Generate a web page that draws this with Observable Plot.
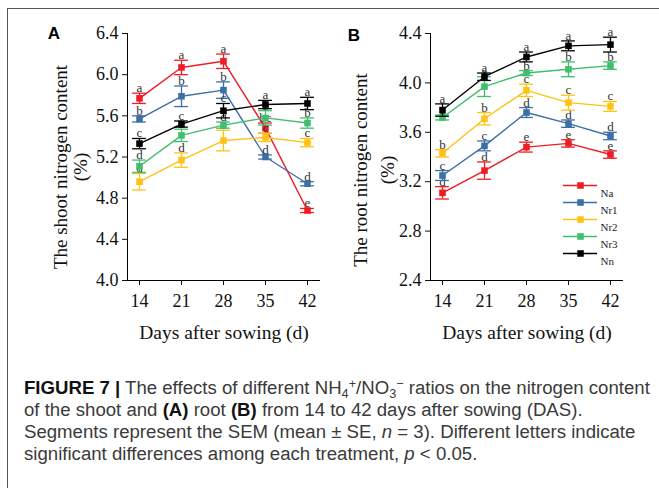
<!DOCTYPE html>
<html>
<head>
<meta charset="utf-8">
<script src="https://cdn.jsdelivr.net/npm/d3@7"></script>
<script src="https://cdn.jsdelivr.net/npm/@observablehq/plot@0.6"></script>
<style>
  html, body { margin: 0; padding: 0; background: #fff; }
  #wrap { position: relative; width: 659px; height: 488px; overflow: hidden; background: #fff; }
  #frame { position: absolute; left: 7px; top: 8px; right: -5px; bottom: -5px; border-left: 1.5px solid #555; border-top: 1.5px solid #555; }
  .panel { position: absolute; top: 0; }
  #caption { position: absolute; left: 24px; top: 377px; font-family: "Liberation Sans", Arial, sans-serif; color: #3a3a3a; white-space: nowrap; }
  #caption .ln { line-height: 22px; height: 22px; }
  #caption b { color: #111; }
  .sb { font-size: 0.68em; position: relative; top: 0.3em; }
  .sp { font-size: 0.68em; position: relative; top: -0.45em; }
</style>
</head>
<body>
<div id="wrap">
  <div id="frame"></div>
  <div id="panelA" class="panel" style="left:0px"></div>
  <div id="panelB" class="panel" style="left:330px"></div>
  <div id="legend" class="panel" style="left:555px; top:165px"></div>
  <div id="caption">
    <div class="ln" id="cap1"><b>FIGURE 7 |</b> The effects of different NH<span class="sb">4</span><span class="sp">+</span>/NO<span class="sb">3</span><span class="sp">−</span> ratios on the nitrogen content</div>
    <div class="ln">of the shoot and <b>(A)</b> root <b>(B)</b> from 14 to 42 days after sowing (DAS).</div>
    <div class="ln">Segments represent the SEM (mean ± SE, <i>n</i> = 3). Different letters indicate</div>
    <div class="ln">significant differences among each treatment, <i>p</i> &lt; 0.05.</div>
  </div>
</div>
<script>
// ---- data ----
const days = [14, 21, 28, 35, 42];
const series = ["Na", "Nr1", "Nr2", "Nr3", "Nn"];
const colors = ["#ee1c24", "#3b6fa6", "#ffc214", "#3fbf6d", "#000000"];

// Shoot nitrogen content (%)  (A)
const shootNa  = [5.77, 6.07, 6.13, 5.48, 4.68];
const shootNr1 = [5.57, 5.79, 5.85, 5.20, 4.94];
const shootNr2 = [4.96, 5.17, 5.36, 5.39, 5.34];
const shootNr3 = [5.11, 5.41, 5.51, 5.58, 5.53];
const shootNn  = [5.33, 5.52, 5.65, 5.71, 5.72];
const shootNaSE  = [0.05, 0.07, 0.07, 0.05, 0.02];
const shootNr1SE = [0.03, 0.10, 0.08, 0.02, 0.02];
const shootNr2SE = [0.08, 0.07, 0.10, 0.04, 0.04];
const shootNr3SE = [0.06, 0.06, 0.03, 0.07, 0.05];
const shootNnSE  = [0.05, 0.03, 0.07, 0.04, 0.06];
const shootNaLt  = ["a", "a", "a", "bc", "e"];
const shootNr1Lt = ["b", "b", "b", "d", "d"];
const shootNr2Lt = ["d", "d", "e", "c", "c"];
const shootNr3Lt = ["d", "c", "d", "b", "b"];
const shootNnLt  = ["c", "c", "c", "a", "a"];
const shootTicks = [4.0, 4.4, 4.8, 5.2, 5.6, 6.0, 6.4];

// Root nitrogen content (%)  (B)
const rootNa  = [3.11, 3.29, 3.48, 3.51, 3.42];
const rootNr1 = [3.25, 3.49, 3.76, 3.67, 3.57];
const rootNr2 = [3.43, 3.71, 3.94, 3.84, 3.81];
const rootNr3 = [3.72, 3.97, 4.08, 4.11, 4.14];
const rootNn  = [3.78, 4.05, 4.21, 4.30, 4.31];
const rootNaSE  = [0.05, 0.07, 0.04, 0.03, 0.03];
const rootNr1SE = [0.04, 0.04, 0.04, 0.03, 0.03];
const rootNr2SE = [0.03, 0.05, 0.05, 0.06, 0.04];
const rootNr3SE = [0.02, 0.08, 0.02, 0.06, 0.03];
const rootNnSE  = [0.05, 0.03, 0.04, 0.04, 0.06];
const rootNaLt  = ["d", "d", "e", "e", "e"];
const rootNr1Lt = ["c", "c", "d", "d", "d"];
const rootNr2Lt = ["b", "b", "c", "c", "c"];
const rootNr3Lt = ["a", "a", "b", "b", "b"];
const rootNnLt  = ["a", "a", "a", "a", "a"];
const rootTicks = [2.4, 2.8, 3.2, 3.6, 4.0, 4.4];

// ---- build tables ----
function table(vals, ses, lts) {
  const out = [];
  series.forEach((s, i) => days.forEach((d, j) => out.push({series: s, day: d, value: vals[i][j], se: ses[i][j], letter: lts[i][j]})));
  return out;
}
const shootData = table(
  [shootNa, shootNr1, shootNr2, shootNr3, shootNn],
  [shootNaSE, shootNr1SE, shootNr2SE, shootNr3SE, shootNnSE],
  [shootNaLt, shootNr1Lt, shootNr2Lt, shootNr3Lt, shootNnLt]);
const rootData = table(
  [rootNa, rootNr1, rootNr2, rootNr3, rootNn],
  [rootNaSE, rootNr1SE, rootNr2SE, rootNr3SE, rootNnSE],
  [rootNaLt, rootNr1Lt, rootNr2Lt, rootNr3Lt, rootNnLt]);

const CAP = 1.15; // half cap width in days
const serif = "'Liberation Serif', 'Times New Roman', serif";

function panel({data, width, marginLeft, marginRight, yDomain, yTicks, yLabel, yLabelDx, yLabelDy, yLabelLH, tag, tagDx, tagDy}) {
  const marks = [];
  marks.push(Plot.ruleX([12], {stroke: "#000", strokeWidth: 1}));
  marks.push(Plot.ruleY([yDomain[0]], {stroke: "#000", strokeWidth: 1}));
  marks.push(Plot.axisX(days, {tickSize: 5, tickPadding: 9, label: null, tickFormat: d => String(d), fontSize: 18}));
  marks.push(Plot.axisY(yTicks, {tickSize: 5, tickPadding: 4, label: null, tickFormat: d => d.toFixed(1), fontSize: 18}));
  for (const s of series) {
    const sd = data.filter(d => d.series === s);
    marks.push(Plot.line(sd, {x: "day", y: "value", stroke: "series", strokeWidth: 1.4}));
    marks.push(Plot.ruleX(sd, {x: "day", y1: d => d.value - d.se, y2: d => d.value + d.se, stroke: "series", strokeWidth: 1.3}));
    marks.push(Plot.ruleY(sd, {y: d => d.value + d.se, x1: d => d.day - CAP, x2: d => d.day + CAP, stroke: "series", strokeWidth: 1.3}));
    marks.push(Plot.ruleY(sd, {y: d => d.value - d.se, x1: d => d.day - CAP, x2: d => d.day + CAP, stroke: "series", strokeWidth: 1.3}));
    marks.push(Plot.dot(sd, {x: "day", y: "value", symbol: "square", fill: "series", r: 3.7}));
    marks.push(Plot.text(sd, {x: "day", y: d => d.value + d.se, text: "letter", lineAnchor: "bottom", dy: -1, fontSize: 13, fill: "#333", fontFamily: serif}));
  }
  marks.push(Plot.text([yLabel], {text: d => d, frameAnchor: "left", rotate: -90, dx: yLabelDx, dy: yLabelDy, fontSize: 19, lineHeight: yLabelLH, lineAnchor: "middle", textAnchor: "middle", fill: "#111", fontFamily: serif}));
  marks.push(Plot.text(["Days after sowing (d)"], {text: d => d, frameAnchor: "bottom", dy: 52, lineAnchor: "middle", textAnchor: "middle", fontSize: 19.5, fill: "#111", fontFamily: serif}));
  marks.push(Plot.text([tag], {text: d => d, frameAnchor: "top-left", dx: tagDx, dy: tagDy, lineAnchor: "middle", textAnchor: "middle", fontSize: 17, fontWeight: "bold", fill: "#000", fontFamily: "'Liberation Sans', Arial, sans-serif"}));
  return Plot.plot({
    width, height: 345,
    marginLeft, marginRight, marginTop: 33, marginBottom: 65,
    x: {domain: [12, 44.17], axis: null},
    y: {domain: yDomain, axis: null},
    color: {domain: series, range: colors},
    style: {fontFamily: serif, fontSize: "18px", background: "transparent", overflow: "visible", color: "#111"},
    marks
  });
}

document.getElementById("panelA").append(panel({
  data: shootData, width: 330, marginLeft: 127, marginRight: 10,
  yDomain: [4.0, 6.4], yTicks: shootTicks,
  yLabel: "The shoot nitrogen content\n(%)", yLabelDx: -57, yLabelDy: 10, yLabelLH: 1.05,
  tag: "A", tagDx: -73.5, tagDy: 0
}));
document.getElementById("panelB").append(panel({
  data: rootData, width: 329, marginLeft: 100, marginRight: 36,
  yDomain: [2.4, 4.4], yTicks: rootTicks,
  yLabel: "The root nitrogen content\n(%)", yLabelDx: -58.5, yLabelDy: 13, yLabelLH: 1.42,
  tag: "B", tagDx: -76.5, tagDy: 2
}));

// legend
document.getElementById("legend").append(Plot.plot({
  width: 80, height: 110,
  margin: 0,
  x: {domain: [0, 1], range: [8, 42], axis: null},
  y: {type: "point", domain: series, range: [10, 98], axis: null},
  color: {domain: series, range: colors},
  style: {background: "transparent", overflow: "visible"},
  marks: [
    Plot.ruleY(series, {y: d => d, x1: 0, x2: 1, stroke: d => d, strokeWidth: 1.4}),
    Plot.dot(series, {x: 0.5, y: d => d, symbol: "square", fill: d => d, r: 3.7}),
    Plot.text(series, {x: 1, y: d => d, text: d => d, dx: 3, dy: 8, textAnchor: "start", fontSize: 11, fill: "#222", fontFamily: serif})
  ]
}));

// fit caption width
const cap = document.getElementById("caption");
cap.style.fontSize = "16px";
const w = document.getElementById("cap1").scrollWidth;
cap.style.fontSize = (16 * 626 / w).toFixed(2) + "px";
</script>
</body>
</html>
